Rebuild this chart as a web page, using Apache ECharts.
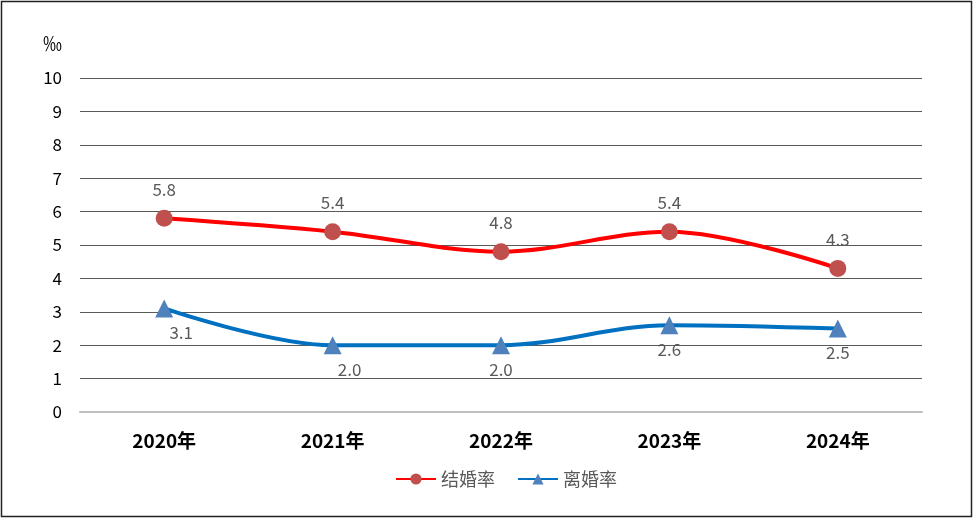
<!DOCTYPE html>
<html>
<head>
<meta charset="utf-8">
<script src="https://cdn.jsdelivr.net/npm/echarts@6/dist/echarts.min.js"></script>
<style>html,body{margin:0;padding:0;background:#fff}#c{width:975px;height:519px}</style>
</head>
<body>
<div id="c"></div>
<script>
var categories = ['2020年', '2021年', '2022年', '2023年', '2024年'];
var marriageRate = [5.8, 5.4, 4.8, 5.4, 4.3];
var divorceRate = [3.1, 2.0, 2.0, 2.6, 2.5];
var divorceLabelShift = [17, 17, 0, 0, 0];
var yTicks = [0, 10, 1];

var chart = echarts.init(document.getElementById('c'), null, {renderer: 'canvas'});
var font = '"Noto Sans CJK SC", "Open Sans", sans-serif';
chart.setOption({
  animation: false,
  textStyle: {fontFamily: font},
  graphic: [{
    type: 'rect', shape: {x: 1.5, y: 1.5, width: 970, height: 515},
    style: {fill: 'none', stroke: '#222', lineWidth: 1.5}, silent: true, z: 100
  }],
  grid: {left: 80, right: 53, top: 78, bottom: 107},
  legend: {
    bottom: 26, left: 390, itemWidth: 40, itemHeight: 14, itemGap: 22,
    textStyle: {color: '#595959', fontSize: 18, fontFamily: font},
    data: ['结婚率', '离婚率']
  },
  xAxis: {
    type: 'category', data: categories, boundaryGap: true,
    axisLine: {lineStyle: {color: '#bfbfbf', width: 2}},
    axisTick: {show: false},
    axisLabel: {color: '#000', fontSize: 19, margin: 19, fontWeight: 'bold', fontFamily: font}
  },
  yAxis: {
    type: 'value', min: yTicks[0], max: yTicks[1], interval: yTicks[2],
    name: '‰', nameLocation: 'end', nameGap: 25,
    nameTextStyle: {color: '#000', fontSize: 19, align: 'right', padding: [0, 18, 0, 0]},
    axisLine: {show: false}, axisTick: {show: false},
    axisLabel: {color: '#000', fontSize: 17, margin: 18},
    splitLine: {lineStyle: {color: '#595959', width: 1}}
  },
  series: [{
    name: '结婚率', type: 'line', smooth: 0.35, data: marriageRate,
    symbol: 'circle', symbolSize: 17,
    lineStyle: {color: '#ff0000', width: 4},
    itemStyle: {color: '#c0504d'},
    label: {show: true, position: 'top', distance: 12, color: '#595959', fontSize: 17, fontFamily: font}
  }, {
    name: '离婚率', type: 'line', smooth: 0.35,
    data: divorceRate.map(function (v, i) {
      return {value: v, label: {offset: [divorceLabelShift[i], 0]}};
    }),
    symbol: 'triangle', symbolSize: 18,
    lineStyle: {color: '#0070c0', width: 4},
    itemStyle: {color: '#4f81bd'},
    label: {show: true, position: 'bottom', distance: 7, color: '#595959', fontSize: 17, fontFamily: font,
      formatter: function (p) { return p.value.toFixed(1); }}
  }]
});
</script>
</body>
</html>
